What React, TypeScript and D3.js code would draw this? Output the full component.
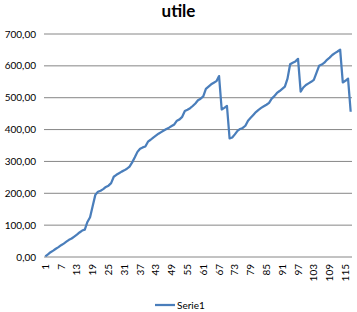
import React from "react";
import * as d3 from "d3";

const title = "utile";
const seriesName = "Serie1";
const values: number[] = [
  2, 8, 15, 20, 26, 31, 37, 42, 48, 54,
  58, 64, 70, 77, 83, 86, 110, 125, 160, 195,
  205, 208, 213, 220, 224, 232, 252, 258, 263, 268,
  272, 277, 284, 297, 313, 330, 340, 344, 347, 362,
  368, 375, 381, 387, 392, 397, 402, 406, 411, 416,
  428, 432, 440, 458, 462, 467, 474, 482, 492, 497,
  504, 528, 535, 542, 547, 552, 568, 463, 468, 474,
  372, 375, 385, 396, 402, 405, 412, 428, 437, 446,
  455, 462, 468, 473, 478, 484, 497, 505, 515, 521,
  528, 535, 560, 605, 610, 614, 622, 519, 532, 540,
  545, 550, 556, 578, 600, 604, 610, 619, 626, 634,
  640, 645, 651, 548, 553, 560, 456,
];
const categories: number[] = values.map((_, i) => i + 1);
const yTicks: number[] = [0, 100, 200, 300, 400, 500, 600, 700];
const xTickLabels: number[] = categories.filter((c) => (c - 1) % 6 === 0);

const W = 357;
const H = 312;
const left = 44;
const right = 352;
const top = 34;
const bottom = 257;
const font = "Lato, 'Open Sans', sans-serif";

const locale = d3.formatLocale({ decimal: ",", thousands: ".", grouping: [3], currency: ["", "€"] });
const fmt = locale.format(".2f");

export default function App() {
  const x = d3.scaleBand<number>().domain(categories).range([left, right]);
  const cx = (c: number) => (x(c) as number) + x.bandwidth() / 2;
  const y = d3.scaleLinear().domain([0, 700]).range([bottom, top]);
  const line = d3
    .line<number>()
    .x((_, i) => cx(categories[i]))
    .y((d) => y(d));

  return (
    <svg width={W} height={H} style={{ position: "absolute", left: 0, top: 0, background: "#fff" }} fontFamily={font}>
      <rect x={0} y={0} width={W} height={H} fill="#fff" />
      <text x={W / 2} y={17} textAnchor="middle" fontSize={17} fontWeight="bold" fill="#000">
        {title}
      </text>
      {yTicks.map((t) => (
        <g key={t}>
          <line x1={left} x2={right} y1={y(t)} y2={y(t)} stroke="#868686" strokeWidth={1} />
          <text x={36} y={y(t)} dy="0.35em" textAnchor="end" fontSize={10} fill="#000">
            {fmt(t)}
          </text>
        </g>
      ))}
      {xTickLabels.map((c) => (
        <text
          key={c}
          transform={`translate(${cx(c)},${bottom + 7}) rotate(-90)`}
          dy="0.35em"
          textAnchor="end"
          fontSize={10}
          fill="#000"
        >
          {c}
        </text>
      ))}
      <path d={line(values) || ""} fill="none" stroke="#4A7EBB" strokeWidth={2.25} strokeLinejoin="round" />
      <line x1={155} x2={175} y1={305} y2={305} stroke="#4A7EBB" strokeWidth={2.25} />
      <text x={177} y={305} dy="0.35em" fontSize={10} fill="#000">
        {seriesName}
      </text>
    </svg>
  );
}
